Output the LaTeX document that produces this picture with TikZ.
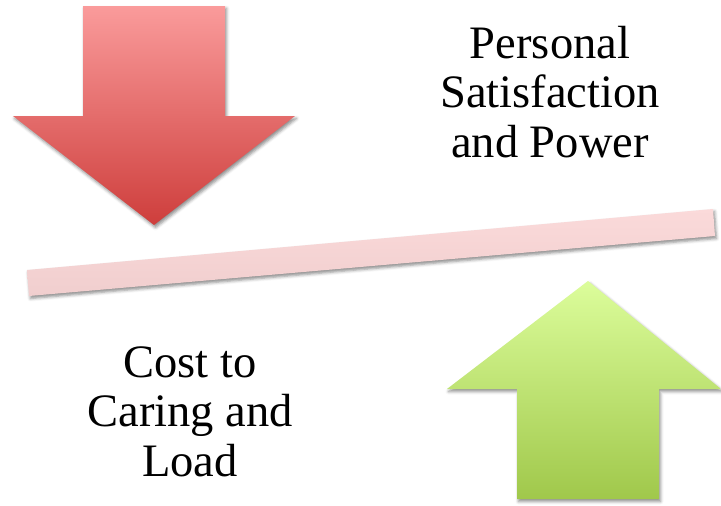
\documentclass[tikz,border=0pt]{standalone}
\usepackage{fontspec}
\setmainfont{Liberation Serif}
\usetikzlibrary{shadows.blur}
\definecolor{redtop}{RGB}{250,155,155}
\definecolor{redbot}{RGB}{206,62,60}
\definecolor{greentop}{RGB}{220,253,155}
\definecolor{greenbot}{RGB}{160,200,75}
\definecolor{beamtop}{RGB}{251,218,218}
\definecolor{beambot}{RGB}{240,206,206}
\begin{document}
\begin{tikzpicture}[x=1pt, y=-1pt,
		soft/.style={blur shadow={shadow xshift=1.5pt, shadow yshift=-2.5pt, shadow blur radius=3pt, shadow opacity=45}},
		redarrow/.style={top color=redtop, bottom color=redbot, soft},
		greenarrow/.style={top color=greentop, bottom color=greenbot, soft},
		beam/.style={top color=beamtop, bottom color=beambot, soft},
		label/.style={align=center, inner sep=0pt, anchor=base, font=\fontsize{46.5}{49.5}\selectfont}]
	\useasboundingbox (0, 0) rectangle (721, 506);

	% down arrow
	\shade[redarrow] (83, 6) -- (225, 6) -- (225, 116) -- (295, 116)
		-- (154, 225) -- (13, 116) -- (83, 116) -- cycle;

	% the beam
	\shade[beam] (27, 270) -- (713, 209) -- (715, 236) -- (29, 296) -- cycle;

	% up arrow
	\shade[greenarrow] (588, 281) -- (721, 389) -- (659, 389) -- (659, 499)
		-- (517, 499) -- (517, 389) -- (447, 389) -- cycle;

	\node[label] (power) at (550, 157) {Personal\\Satisfaction\\and Power};
	\node[label] (cost) at (190, 476) {Cost to\\Caring and\\Load};

\end{tikzpicture}
\end{document}
